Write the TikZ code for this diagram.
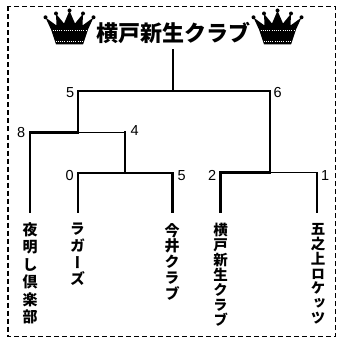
\documentclass[tikz,border=0pt]{standalone}
\usepackage{fontspec}
\setmainfont{Liberation Sans}
\newfontfamily\jpv[RawFeature=+vert]{Noto Sans CJK JP}
\newfontfamily\jph{Noto Sans CJK JP}
\tikzset{
  thin line/.style={line width=1.3pt, line cap=rect},
  thick line/.style={line width=2.9pt, line cap=rect, line join=miter},
  score/.style={inner sep=0pt, font=\fontsize{14.5}{15}\selectfont},
  team/.style={anchor=north, inner sep=0pt, align=center},
  crown/.pic={
    \fill[black] (-24,17.5) -- (-13,25.5) -- (-13.5,13.7) -- (-5.5,23.5) -- (0,10.7)
      -- (5.5,23.5) -- (13.5,13.7) -- (13,25.5) -- (24,17.5) -- (18.5,29.5)
      -- (13.5,44.5) -- (-13.5,44.5) -- (-18.5,29.5) -- cycle;
    \foreach \p in {(-24,17.3),(-13.5,13.5),(0,10.5),(13.5,13.5),(24,17.3)}
      \fill[black] \p circle (2);
    \draw[white, line width=0.8pt, dash pattern=on 0.8pt off 1.4pt] (-17,30.5) -- (17,30.5);
    \draw[white, line width=0.8pt, dash pattern=on 0.8pt off 1.4pt] (-14,41.8) -- (14,41.8);
  }
}
\begin{document}
\begin{tikzpicture}[x=1pt,y=-1pt]
\useasboundingbox (0,0) rectangle (339,339);
% frame
\draw[line width=1.6pt, dash pattern=on 5pt off 3pt] (8,6.5) rectangle (335.5,336.5);
% title
\pic at (69.5,0) {crown};
\pic at (277.5,0) {crown};
\node[inner sep=0pt, font=\jph\bfseries\fontsize{22}{24}\selectfont] (title) at (173.5,32.5) {横戸新生クラブ};
% bracket coordinates
\coordinate (la) at (30,212);
\coordinate (lb) at (78,212);
\coordinate (lc) at (172.5,212);
\coordinate (ld) at (220.5,212);
\coordinate (le) at (317,212);
\coordinate (b1) at (78,173);
\coordinate (c1) at (172.5,173);
\coordinate (m1) at (125,173);
\coordinate (a2) at (30,132.5);
\coordinate (m2t) at (125,132.5);
\coordinate (m2) at (78,132.5);
\coordinate (d1) at (220.5,172.5);
\coordinate (e1) at (317,172.5);
\coordinate (m3) at (270,172.5);
\coordinate (f1) at (78,91);
\coordinate (f2) at (270,91);
\coordinate (top) at (173,91);
\coordinate (win) at (173,50);
% thin (losers)
\draw[thin line] (lb) -- (b1) -- (m1);
\draw[thin line] (le) -- (e1) -- (m3);
\draw[thin line] (m2t) -- (m2);
\draw[thin line] (f1) -- (top);
% thick (winners)
\draw[thick line] (ld) -- (d1) -- (m3) -- (f2) -- (top) -- (win);
\draw[thick line] (lc) -- (c1) -- (m1) -- (m2t);
\draw[thick line] (la) -- (a2) -- (m2) -- (f1);
% scores
\node[score, anchor=east] (s8) at (25.5,132.5) {8};
\node[score, anchor=west] (s4) at (130.5,130.5) {4};
\node[score, anchor=east] (s5a) at (74.5,92.5) {5};
\node[score, anchor=west] (s6) at (273.5,92.5) {6};
\node[score, anchor=east] (s0) at (74,176) {0};
\node[score, anchor=west] (s5b) at (177.5,176) {5};
\node[score, anchor=east] (s2) at (216.5,175.5) {2};
\node[score, anchor=west] (s1) at (321,175.5) {1};
% teams
\node[team, font=\jpv\bfseries\fontsize{15}{17.5}\selectfont] (ta) at (30,222) {夜\\明\\し\\倶\\楽\\部};
\node[team, font=\jpv\bfseries\fontsize{15}{16.7}\selectfont] (tb) at (77.5,223) {ラ\\ガ\\ー\\ズ};
\node[team, font=\jpv\bfseries\fontsize{15}{15.8}\selectfont] (tc) at (172,223) {今\\井\\ク\\ラ\\ブ};
\node[team, font=\jpv\bfseries\fontsize{14.5}{14.9}\selectfont] (td) at (220.5,223) {横\\戸\\新\\生\\ク\\ラ\\ブ};
\node[team, font=\jpv\bfseries\fontsize{14.5}{14.9}\selectfont] (te) at (318,223) {五\\之\\上\\ロ\\ケ\\ッ\\ツ};
\end{tikzpicture}
\end{document}
